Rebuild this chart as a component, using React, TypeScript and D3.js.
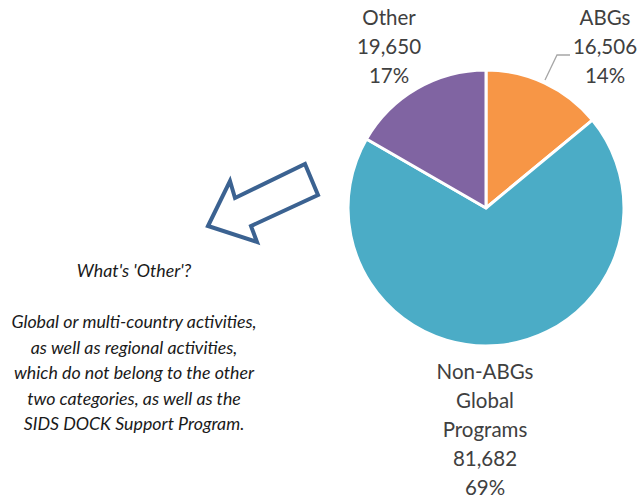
import React from "react";
import * as d3 from "d3";

const categories = ["ABGs", "Non-ABGs Global Programs", "Other"];
const labelLines = [["ABGs"], ["Non-ABGs", "Global", "Programs"], ["Other"]];
const values = [16506, 81682, 19650];
const colors = ["#F79646", "#4BACC6", "#8064A2"];
const noteLines = [
  "What's 'Other'?",
  "",
  "Global or multi-country activities,",
  "as well as regional activities,",
  "which do not belong to the other",
  "two categories, as well as the",
  "SIDS DOCK Support Program.",
];

const W = 641;
const H = 499;
const cx = 486;
const cy = 208;
const R = 138;

export default function App() {
  const pie = d3.pie<number>().sort(null).value((d) => d);
  const arcs = pie(values);
  const arc = d3.arc<d3.PieArcDatum<number>>().innerRadius(0).outerRadius(R);
  const total = d3.sum(values);
  const fmt = d3.format(",");
  const pct = (v: number) => Math.round((v / total) * 100) + "%";

  const labelPos = [
    { x: 605, y: 25 },
    { x: 485, y: 379 },
    { x: 389, y: 25 },
  ];
  const lh = 29;

  const arrowPts: [number, number][] = [
    [208, 226],
    [230, 181],
    [235, 198],
    [305, 164],
    [318, 195],
    [251, 226],
    [257, 242],
  ];

  return (
    <svg width={W} height={H} style={{ position: "absolute", left: 0, top: 0 }}>
      <rect width={W} height={H} fill="#fff" />
      <g transform={`translate(${cx},${cy})`}>
        {arcs.map((a, i) => (
          <path key={categories[i]} d={arc(a) || ""} fill={colors[i]} stroke="#fff" strokeWidth={3} strokeLinejoin="round" />
        ))}
      </g>
      <polyline points="545,80 557,55 570,55" fill="none" stroke="#A6A6A6" strokeWidth={1.3} />
      {arcs.map((a, i) => {
        const lines = [...labelLines[i], fmt(values[i]), pct(values[i])];
        return (
          <text key={"l" + i} x={labelPos[i].x} y={labelPos[i].y} textAnchor="middle" fontFamily="Lato, 'Open Sans', sans-serif" fontSize={20.5} fill="#404040">
            {lines.map((t, j) => (
              <tspan key={j} x={labelPos[i].x} y={labelPos[i].y + j * lh}>
                {t}
              </tspan>
            ))}
          </text>
        );
      })}
      <polygon points={arrowPts.map((p) => p.join(",")).join(" ")} fill="#fff" stroke="#3B6291" strokeWidth={4} strokeLinejoin="miter" />
      <text textAnchor="middle" fontFamily="Lato, sans-serif" fontStyle="italic" fontSize={17.8} fill="#1a1a1a">
        {noteLines.map((t, j) => (
          <tspan key={j} x={134} y={277 + j * 25.5}>
            {t}
          </tspan>
        ))}
      </text>
    </svg>
  );
}
